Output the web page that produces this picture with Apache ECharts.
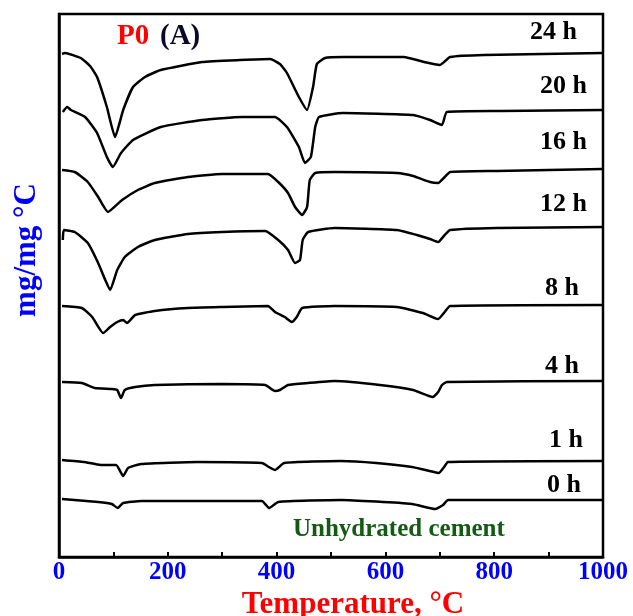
<!DOCTYPE html>
<html>
<head>
<meta charset="utf-8">
<script src="https://cdn.jsdelivr.net/npm/echarts@6/dist/echarts.min.js"></script>
<style>
html,body{margin:0;padding:0;background:#fff;}
#c{width:633px;height:616px;}
</style>
</head>
<body>
<div id="c"></div>
<script>
// Temperature (°C) ticks
const xTicks = [0, 200, 400, 600, 800, 1000];
const seriesNames = ['24 h', '20 h', '16 h', '12 h', '8 h', '4 h', '1 h', '0 h'];

// DTG traces: [temperature °C, stacked signal (arb. units)]
const dtg24h = [[5.5,503],[11,504],[40,499],[57,491],[70,480],[88,450],[103,420],[118,447],[136,470],[158,480],[187,487],[263,495],[333,497],[388,498],[406,493],[419,484],[441,460],[456,447],[467,470],[474,493],[489,499],[522,500],[634,500],[671,495],[700,492],[708,495],[719,500],[781,502],[1000,504]];
const dtg20h = [[7,445],[15,450],[22,447],[48,440],[70,424],[88,400],[99,390],[114,404],[136,417],[187,430],[263,437],[336,440],[397,440],[419,430],[441,410],[452,394],[463,400],[471,430],[478,440],[522,444],[651,442],[682,437],[704,432],[713,445],[811,446],[1000,447]];
const dtg16h = [[5.5,387],[29,385],[53,375],[72,360],[90,345],[116,357],[145,367],[176,374],[237,380],[300,383],[384,383],[403,375],[421,364],[434,350],[447,342],[456,350],[461,377],[471,384],[507,385],[621,384],[651,381],[682,375],[697,374],[709,380],[719,385],[805,386],[1000,388]];
const dtg12h = [[7,317],[9,327],[29,325],[53,314],[72,294],[85,277],[94,267],[107,287],[121,300],[145,310],[176,317],[237,323],[300,325],[379,326],[403,317],[421,307],[434,294],[443,297],[448,317],[458,325],[507,329],[621,327],[658,322],[682,318],[697,315],[709,322],[719,327],[805,329],[1000,330]];
const dtg8h = [[5.5,251],[42,249],[61,240],[81,224],[94,230],[107,235],[118,237],[125,234],[140,242],[176,246],[237,249],[300,250],[384,251],[397,245],[415,240],[428,235],[437,240],[447,249],[507,251],[621,250],[669,244],[697,238],[709,245],[719,251],[1000,252]];
const dtg4h = [[5.5,175],[42,174],[66,169],[97,168],[107,167],[114,159],[121,167],[140,170],[176,172],[300,173],[379,172],[397,166],[406,167],[421,172],[458,174],[507,176],[590,172],[651,167],[687,160],[697,165],[704,172],[713,175],[1000,176]];
const dtg1h = [[5.5,97],[46,95],[77,92],[105,92],[118,81],[127,89],[151,93],[255,95],[373,94],[386,90],[397,87],[414,94],[518,96],[583,94],[649,90],[689,85],[698,84],[708,90],[715,95],[1000,96]];
const dtg0h = [[5.5,58],[72,55],[97,53],[108,49],[118,54],[151,56],[373,56],[386,49],[403,55],[518,57],[649,53],[691,48],[706,52],[715,57],[1000,57]];

const allData = [dtg24h, dtg20h, dtg16h, dtg12h, dtg8h, dtg4h, dtg1h, dtg0h];

// label placement (pixels) — layout only
const labelPos = [[577,33],[587,87],[587,143],[587,205],[579,289],[579,367],[583,441],[581,486]];

const serif = 'Liberation Serif';
const chart = echarts.init(document.getElementById('c'));

const graphics = seriesNames.map((n, i) => ({
  type: 'text', right: 633 - labelPos[i][0], top: labelPos[i][1] - 14,
  style: { text: n, font: 'bold 26px "' + serif + '"', fill: '#000' }
}));
graphics.push({
  type: 'text', left: 117, top: 22,
  style: { text: 'P0', font: 'bold 29px "' + serif + '"', fill: '#ff0000' }
});
graphics.push({
  type: 'text', left: 160, top: 22,
  style: { text: '(A)', font: 'bold 29px "' + serif + '"', fill: '#0a0a28' }
});
graphics.push({
  type: 'text', left: 293, top: 517,
  style: { text: 'Unhydrated cement', font: 'bold 25px "' + serif + '"', fill: '#145a14' }
});
graphics.push({
  type: 'text', x: 27, y: 250, rotation: Math.PI / 2,
  style: { text: 'mg/mg °C', font: 'bold 31px "' + serif + '"', fill: '#0000ff', align: 'center', verticalAlign: 'middle' }
});

chart.setOption({
  animation: false,
  grid: { left: 59, right: 30, top: 14, bottom: 59, outerBoundsMode: 'none', containLabel: false,
          show: true, borderColor: '#000', borderWidth: 2.5, backgroundColor: 'transparent' },
  xAxis: {
    type: 'value', min: xTicks[0], max: xTicks[xTicks.length - 1], interval: 100,
    axisLine: { lineStyle: { color: '#000', width: 2.5 } },
    axisTick: { inside: true, length: 5, lineStyle: { color: '#000', width: 2 } },
    splitLine: { show: false },
    axisLabel: {
      color: '#0000ff', fontFamily: serif, fontWeight: 'bold', fontSize: 25, margin: 3,
      formatter: v => (xTicks.indexOf(v) >= 0 ? String(v) : '')
    },
    name: 'Temperature, °C', nameLocation: 'middle', nameGap: 30,
    nameTextStyle: { color: '#ff0000', fontFamily: serif, fontWeight: 'bold', fontSize: 31, padding: [0, 0, 0, 44] }
  },
  yAxis: {
    type: 'value', min: 0, max: 543,
    axisLine: { show: true, lineStyle: { color: '#000', width: 2.5 } },
    axisTick: { show: false }, axisLabel: { show: false }, splitLine: { show: false }
  },
  graphic: graphics,
  series: allData.map((d, i) => ({
    name: seriesNames[i], type: 'line', data: d, showSymbol: false, smooth: 0.15,
    lineStyle: { color: '#000', width: 2.5 }
  }))
});
</script>
</body>
</html>
